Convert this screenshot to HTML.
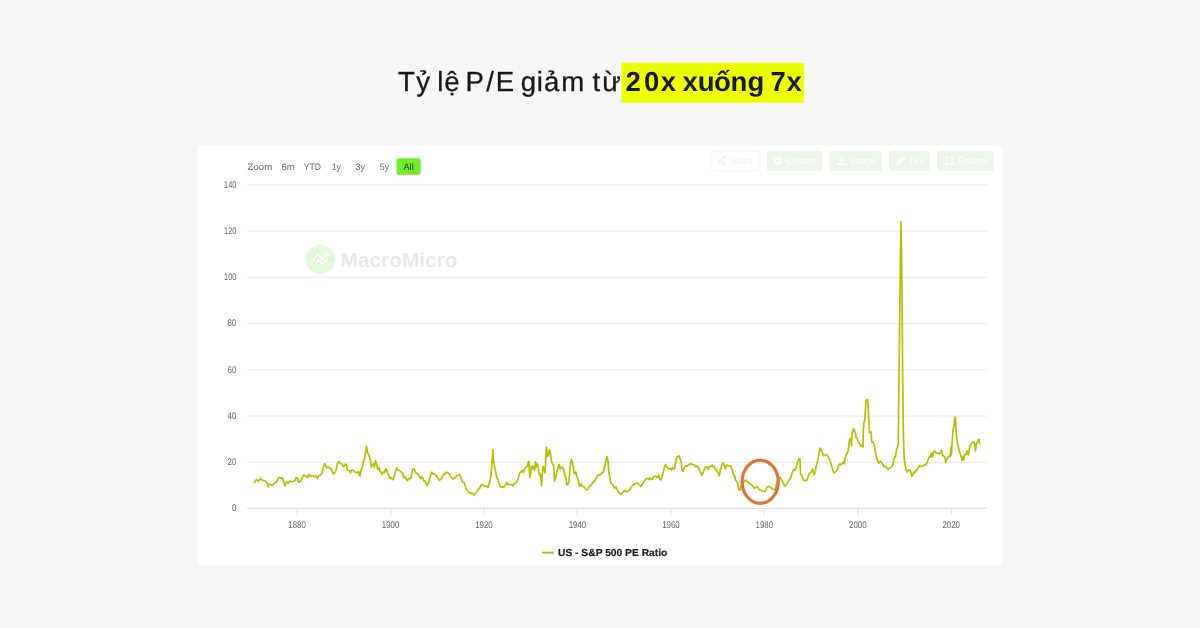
<!DOCTYPE html>
<html lang="vi">
<head>
<meta charset="utf-8">
<title>Tỷ lệ P/E giảm từ 20x xuống 7x</title>
<style>
html,body{margin:0;padding:0;}
body{width:1200px;height:628px;background:#f6f6f6;position:relative;overflow:hidden;font-family:"Liberation Sans",sans-serif;}
.chart{position:absolute;left:0;top:0;}
svg.ttl{position:absolute;left:0;top:0;}
svg text{font-family:"Liberation Sans",sans-serif;text-rendering:geometricPrecision;}
</style>
</head>
<body>
<svg class="ttl" width="1200" height="130" viewBox="0 0 1200 130">
<rect x="621.5" y="62.8" width="182.6" height="39.9" fill="#eeff03"/>
<g font-size="27.6" fill="#18181c" stroke="#18181c" stroke-width="0.3">
<text x="398.1 416.27" y="90.75">Tỷ</text>
<text x="437.28 444.23" y="90.75">lệ</text>
<text x="465.49 486.37 495.63" y="90.75">P/E</text>
<text x="520.76 536.84 543.89 561.25" y="90.75">giảm</text>
<text x="592.53 602.29" y="90.75">từ</text>
</g>
<g font-size="27.5" font-weight="bold" fill="#18181c">
<text x="625.43 643.92 660.76" y="90.75">20x</text>
<text x="682.41 697.85 713.95 730.45 747.51" y="90.75">xuống</text>
<text x="770.62 786.53" y="90.75">7x</text>
</g>
</svg>
<svg class="chart" width="1200" height="628" viewBox="0 0 1200 628">
<rect x="197.6" y="145.5" width="805.5" height="419.1" fill="#fff"/>
<g id="grid">
<line x1="247.2" x2="987" y1="462.36" y2="462.36" stroke="#e7e7e7" stroke-width="0.9"/>
<line x1="247.2" x2="987" y1="416.12" y2="416.12" stroke="#e7e7e7" stroke-width="0.9"/>
<line x1="247.2" x2="987" y1="369.88" y2="369.88" stroke="#e7e7e7" stroke-width="0.9"/>
<line x1="247.2" x2="987" y1="323.64" y2="323.64" stroke="#e7e7e7" stroke-width="0.9"/>
<line x1="247.2" x2="987" y1="277.40" y2="277.40" stroke="#e7e7e7" stroke-width="0.9"/>
<line x1="247.2" x2="987" y1="231.16" y2="231.16" stroke="#e7e7e7" stroke-width="0.9"/>
<line x1="247.2" x2="987" y1="184.92" y2="184.92" stroke="#e7e7e7" stroke-width="0.9"/>
<line x1="247.2" x2="987" y1="508.30" y2="508.30" stroke="#dedede" stroke-width="1.2"/>
</g>
<g id="ylab" font-size="9.7" fill="#666">
<text x="231.90" y="511.30" textLength="4.4" lengthAdjust="spacingAndGlyphs">0</text>
<text x="227.60" y="465.06" textLength="8.7" lengthAdjust="spacingAndGlyphs">20</text>
<text x="227.60" y="418.82" textLength="8.7" lengthAdjust="spacingAndGlyphs">40</text>
<text x="227.60" y="372.58" textLength="8.7" lengthAdjust="spacingAndGlyphs">60</text>
<text x="227.60" y="326.34" textLength="8.7" lengthAdjust="spacingAndGlyphs">80</text>
<text x="224.10" y="280.10" textLength="12.2" lengthAdjust="spacingAndGlyphs">100</text>
<text x="224.10" y="233.86" textLength="12.2" lengthAdjust="spacingAndGlyphs">120</text>
<text x="224.10" y="187.62" textLength="12.2" lengthAdjust="spacingAndGlyphs">140</text>
</g>
<g id="xlab" font-size="9.7" fill="#666">
<line x1="297.10" x2="297.10" y1="508.30" y2="515" stroke="#dedede" stroke-width="1"/>
<text x="288.35" y="527.9" textLength="17.5" lengthAdjust="spacingAndGlyphs">1880</text>
<line x1="390.55" x2="390.55" y1="508.30" y2="515" stroke="#dedede" stroke-width="1"/>
<text x="381.80" y="527.9" textLength="17.5" lengthAdjust="spacingAndGlyphs">1900</text>
<line x1="484.00" x2="484.00" y1="508.30" y2="515" stroke="#dedede" stroke-width="1"/>
<text x="475.25" y="527.9" textLength="17.5" lengthAdjust="spacingAndGlyphs">1920</text>
<line x1="577.45" x2="577.45" y1="508.30" y2="515" stroke="#dedede" stroke-width="1"/>
<text x="568.70" y="527.9" textLength="17.5" lengthAdjust="spacingAndGlyphs">1940</text>
<line x1="670.90" x2="670.90" y1="508.30" y2="515" stroke="#dedede" stroke-width="1"/>
<text x="662.15" y="527.9" textLength="17.5" lengthAdjust="spacingAndGlyphs">1960</text>
<line x1="764.35" x2="764.35" y1="508.30" y2="515" stroke="#dedede" stroke-width="1"/>
<text x="755.60" y="527.9" textLength="17.5" lengthAdjust="spacingAndGlyphs">1980</text>
<line x1="857.80" x2="857.80" y1="508.30" y2="515" stroke="#dedede" stroke-width="1"/>
<text x="849.05" y="527.9" textLength="17.5" lengthAdjust="spacingAndGlyphs">2000</text>
<line x1="951.25" x2="951.25" y1="508.30" y2="515" stroke="#dedede" stroke-width="1"/>
<text x="942.50" y="527.9" textLength="17.5" lengthAdjust="spacingAndGlyphs">2020</text>
</g>
<g id="zoom" font-size="9.4" fill="#666">
<text x="247.6" y="169.9" textLength="24.6" lengthAdjust="spacingAndGlyphs">Zoom</text>
<text x="281.50" y="169.9" textLength="13.4" lengthAdjust="spacingAndGlyphs">6m</text>
<text x="303.65" y="169.9" textLength="17.2" lengthAdjust="spacingAndGlyphs">YTD</text>
<text x="331.70" y="169.9" textLength="9.2" lengthAdjust="spacingAndGlyphs">1y</text>
<text x="355.60" y="169.9" textLength="9.5" lengthAdjust="spacingAndGlyphs">3y</text>
<text x="379.75" y="169.9" textLength="9.3" lengthAdjust="spacingAndGlyphs">5y</text>
<rect x="396.5" y="158.3" width="24.2" height="16.5" rx="2" fill="#70ec28"/>
<text x="403.5" y="169.9" fill="#333" textLength="10.2" lengthAdjust="spacingAndGlyphs">All</text>
</g>
<g id="tools" font-size="9.6" fill="#fff">
<rect x="710.9" y="150.9" width="48.2" height="19.8" rx="2.8" fill="#fff" stroke="#f6f6f6" stroke-width="1.2"/>
<g stroke="#f1f1f1" stroke-width="1" fill="#f1f1f1"><path d="M724.3,157.3 L720,160.7 L724.3,163.8" fill="none"/><circle cx="724.4" cy="157.3" r="1.3"/><circle cx="720" cy="160.7" r="1.3"/><circle cx="724.4" cy="163.8" r="1.3"/></g>
<text x="730.8" y="164.4" fill="#f1f1f1" textLength="22.4" lengthAdjust="spacingAndGlyphs">Share</text>
<rect x="766.9" y="150.7" width="55.5" height="20.4" rx="2.8" fill="#eef5ea"/>
<g transform="translate(777.9,160.8)"><circle r="3.35" fill="#fff"/><path d="M0,-4.4V4.4M-3.81,-2.2L3.81,2.2M-3.81,2.2L3.81,-2.2" stroke="#fff" stroke-width="2.4" stroke-linecap="butt" fill="none"/><circle r="1.35" fill="#eef5ea"/></g>
<text x="786" y="164.4" textLength="29.7" lengthAdjust="spacingAndGlyphs">Custom</text>
<rect x="829.7" y="150.7" width="52" height="20.4" rx="2.8" fill="#eef5ea"/>
<path d="M840.7,156.2h2v3.8h2l-3,3.1l-3,-3.1h2z M837,163h3.2l1.5,1.4l1.5,-1.4h3.3v2.3h-9.5z" fill="#fff"/>
<text x="850.8" y="164.4" textLength="24.6" lengthAdjust="spacingAndGlyphs">Image</text>
<rect x="888.9" y="150.7" width="40.8" height="20.4" rx="2.8" fill="#eef5ea"/>
<path d="M896.6,164.9l0.5,-2.6l6.2,-6.2l2.1,2.1l-6.2,6.2z" fill="#fff"/>
<text x="910" y="164.4" textLength="13.5" lengthAdjust="spacingAndGlyphs">DIY</text>
<rect x="937" y="150.7" width="57" height="20.4" rx="2.8" fill="#eef5ea"/>
<path d="M945.6,159.8v-2.4h2.6M950.2,157.4h2.6v2.4M952.8,161.9v2.4h-2.6M948.2,164.3h-2.6v-2.4" fill="none" stroke="#fff" stroke-width="1.4"/>
<text x="958.3" y="164.4" textLength="28.8" lengthAdjust="spacingAndGlyphs">Enlarge</text>
</g>
<g id="wm">
<circle cx="320.3" cy="259.2" r="14.7" fill="#e2f8d8"/>
<path d="M310.8,264.5L317.5,254.3L322,259.1L326.1,255.3M315,264.5L318.5,259.7L322.3,264.2L326.4,259.1L329.6,264.8" fill="none" stroke="#fff" stroke-width="1.35" stroke-linejoin="round" stroke-linecap="round"/>
<circle cx="327.1" cy="254.3" r="1.35" fill="none" stroke="#fff" stroke-width="1"/>
<text x="340.6" y="266.5" font-size="20.5" font-weight="bold" fill="#e8e8e8" textLength="116.8" lengthAdjust="spacingAndGlyphs">MacroMicro</text>
</g>
<path id="series" d="M254.5,482.5 L256,479.8 L257.5,480.2 L258.5,481 L260.5,478.5 L262.5,480.5 L264.5,480.5 L266.5,482 L267.5,484 L268.2,487 L269.2,484 L271,485.2 L273,484.8 L275,483 L276.5,482 L278.5,477.5 L280,477.5 L281.5,478.8 L282.5,478 L283.5,481 L284.8,486 L286.2,482 L288,483 L290,481.2 L292,481.8 L294,481 L295,480.5 L295.8,477.8 L297,477.5 L298,479.5 L298.8,482.2 L300.5,481.5 L302,478.5 L303.5,475 L304.8,476 L306,475.8 L307.5,477.5 L309,474.5 L310.2,476.5 L312.5,475.5 L314,477 L316,476 L317.5,478.5 L318.5,476 L320,475.5 L322,473 L323.5,467 L324.5,463.5 L325.5,465 L326.5,468 L328.5,466.8 L330,469 L331.2,468.5 L332.2,471.5 L333.5,474 L335,472.5 L336,470 L337.5,463.5 L339,461.5 L340.5,463.5 L341.8,464 L343.5,466.8 L345.5,464 L346.5,465.5 L347.8,470.5 L349.5,470.5 L350.5,473 L351.5,470 L353.5,470.5 L355,472 L357,472.8 L358.5,471.5 L359.8,476 L360,476 L361,470 L362.2,468 L363.5,461.5 L364.5,459 L365.5,452 L366.5,446 L367.5,452.5 L369,455 L370.2,459 L371.2,467 L372,464.5 L372.8,465 L373.5,464 L374.3,467.5 L375.5,460.5 L376.5,464.5 L377.8,469.5 L379,467.5 L380,471.5 L381.2,472.5 L382,474.5 L383,472 L384.5,472.5 L385.8,469 L386.8,470 L387.5,473 L389,475.5 L389.8,478.5 L391,477.5 L392,479 L393.2,479.8 L394.5,475 L395.8,470.5 L396.8,467.8 L397.8,469.8 L399.5,470.5 L401,472 L402.5,473 L403.8,477.5 L404.8,476.5 L406,478.5 L407.5,480.8 L408.8,478.8 L410,478.5 L411.2,477.5 L412.2,472 L413,469 L414.2,468.8 L415.2,472 L416.5,473.5 L418,474 L419.2,476 L420.5,478.5 L421.5,476.5 L422.8,478 L423.8,481 L425,481 L426,483 L427,485.8 L428,484 L429.5,479.5 L430.8,475 L431.8,472 L433,474 L434.5,474 L436,475.5 L437.5,477.5 L438.5,478.5 L439.5,480.5 L441,479 L442.5,476.5 L443.8,474 L444.8,474.5 L445.8,472.2 L447.2,472.5 L448.5,473.5 L449.8,474.5 L451,477 L452.5,478.5 L453.2,479 L454.5,477.5 L455.5,477.8 L456.5,475.8 L458,475.5 L459.5,474.5 L460.5,476.5 L461.5,479.5 L462.8,482.5 L464.2,482.5 L465.5,487 L466.5,489.5 L468,491.5 L470,493 L470,493.5 L471.5,492.8 L472.8,493.5 L474,495 L475.5,493.5 L477,491.5 L478,489.5 L479.5,488.5 L480.5,486.5 L481.5,484.5 L482.5,484.5 L483.8,485.8 L485,486 L486,486.5 L487,486.2 L488,487.5 L489,484 L490,480 L491,476 L491.8,464 L492.5,457 L492.8,449.5 L493.3,459 L494,463 L495,469.5 L495.8,472 L496.8,478 L498,479.5 L499,483 L500,486 L501.2,487.5 L502.5,486.8 L504,487 L505.2,485 L506.2,484 L507,482.5 L508,484.5 L509.5,484.8 L511,484.5 L512,484.5 L513,486 L514,484 L515.5,483 L517,481.5 L518.5,477 L519.5,473.5 L520.5,472 L521.5,471.8 L522.2,470.2 L523.2,472.5 L524.5,469.5 L525.5,467.5 L526.5,466.5 L527.5,466.5 L528.2,461.5 L529,461.5 L529.7,477.5 L530.5,474 L531.5,466.5 L532.2,469 L533,466.2 L533.8,466.8 L534.5,470.5 L535.5,461.8 L536.2,467 L537,464 L537.8,464.5 L538.8,472 L539.5,475 L540.5,474.5 L541.5,486 L542.2,475.5 L543,466.5 L543.8,467 L545,473 L545.8,458 L546.5,447 L547.5,456.5 L548.5,455 L549.5,449.5 L550.5,454 L551.5,461 L552.5,464 L553.5,464.8 L554.5,481 L555.5,478.5 L556.5,474 L557.8,467.5 L559,464.5 L560,469 L561.2,467 L562.5,467.5 L563.8,470 L565,476 L565.8,476.5 L566.8,485 L568,484 L569,481.5 L570,469 L570.8,461.5 L571.5,459.5 L572.5,463 L573.2,467 L574,473 L575,473.5 L575.8,472 L576.5,475 L577.5,478 L578.2,480 L579.2,486.2 L580,485.5 L581,484 L582.5,486.2 L584,486.8 L585.5,488.8 L586.5,489.8 L587.8,489.5 L588.8,487 L590,485.8 L591,485.5 L592.5,483 L593.5,481.8 L594.8,481 L595.8,478.5 L597,477 L598,475 L599.5,475 L601,473.8 L602.5,472.8 L603.2,472.2 L604,469 L605,465 L606.2,459.5 L607,456.5 L608,461 L608.8,472 L609.8,477 L610.8,482.5 L612,484 L613.5,486 L614.5,488 L616,487 L617.2,489.8 L618.5,492.2 L620,493.5 L621.2,494 L622.5,492.2 L624,491 L625.2,490.5 L626.2,492 L627.5,491.5 L628.8,490 L630,489.5 L631.2,487 L632.5,485.5 L634,484.5 L635.2,483.5 L636.2,483.5 L637.5,482.8 L639,484.8 L640.8,486.5 L642.5,484 L644.5,481 L646.5,478.5 L648,478.5 L648.8,479.5 L649.8,478 L651,479.5 L652,479.5 L653.2,477.5 L654.5,476 L655.8,476.5 L656.8,477.5 L658,476.5 L658.8,475.2 L659.8,479.5 L660.8,480 L662,476.5 L663.5,471 L664.8,466.5 L665.8,464.5 L667,467 L668.2,468.5 L669.5,469 L670.5,468.5 L671.5,469.8 L672.5,467.5 L673.5,469 L674.5,469 L675.5,463 L676.5,458 L677.8,456.5 L679.2,456 L680.2,459 L681.2,462 L682,470 L683.2,471 L684.5,467 L685.8,465.8 L687,466.2 L688.5,465 L690,463.8 L691.5,464 L693,464.5 L694.5,464.8 L695.5,466.8 L696.8,466.2 L698,467 L699.5,470 L700.8,473 L701.8,475 L703,473 L704.5,469 L705.8,466.8 L707,466.5 L708.2,469.5 L709.5,466.5 L710.5,466.8 L711.8,465.2 L712.8,466.8 L714,466.5 L715,469 L716.2,469.8 L717.5,471.8 L718.5,473 L719.2,475.8 L720.5,470 L721.8,465.5 L723,462.8 L724.2,465 L725.5,469 L726.8,465 L728,465.5 L729.5,466.5 L731,466 L732,469.5 L733.2,474 L734.5,475.5 L735.5,480 L736.8,481.5 L737.8,484 L738.8,490 L740,490 L741,486 L742.5,483.5 L744,482 L745.2,480.2 L746.5,481.2 L748.5,482.5 L750.5,484 L752.5,486 L754.5,488.2 L756,487.5 L757.5,486.8 L758.5,488.8 L760,490 L761.5,490.8 L763.5,491 L765,491.8 L766.2,489 L767.5,486.8 L769,486.5 L770.5,487.2 L772,488.8 L773.5,489.5 L775,489.8 L776,486 L777,482 L778.5,478.5 L779.8,477.5 L781.2,479 L782.5,481.5 L783.8,484.5 L785,486 L786.2,484.5 L787.8,482.5 L789,480 L790.5,478.5 L791.8,474 L793,470.5 L794.2,469.5 L795.5,469.8 L796.5,466.2 L797.8,461.5 L799,458.8 L799.8,460 L800,459 L800.5,474.5 L801.8,475 L802.8,478.5 L804,480.2 L805.5,480.8 L806.8,480.2 L807.8,478 L808.8,474.5 L810,473 L811.2,472 L812.5,469 L813.5,473 L814.2,474.8 L815.2,472 L816,467 L817.5,461.5 L818.8,454 L820,448 L821.5,451 L822.8,454 L823.8,455.8 L825.2,455 L826.5,454.5 L827.8,456 L829,458.5 L830.2,461 L831.2,465 L832.5,468.5 L833.8,473 L835,472.5 L836.5,471 L837.5,469 L838.8,465 L839.8,463.8 L841,465 L842.2,463.5 L843.5,461.8 L844.3,464 L845,458.5 L845.8,455.5 L847,453.5 L848.2,450.5 L849,444 L849.8,438.5 L850.8,438.5 L851.5,445.5 L852,433 L853,430 L853.8,428.8 L854.5,432 L855.2,432 L856,437 L857,438.5 L858.5,442 L859.8,443.8 L861,446.2 L862,445.5 L863,447 L863.2,432 L864,423 L864.8,420 L865.5,410 L866,400.5 L867.5,399.5 L868.2,407 L868.8,420 L869.5,433 L870,432.5 L871.2,432 L871.8,442.5 L873,441.8 L874.2,445 L875.2,450.5 L876,455.5 L877.2,459 L878.5,463.5 L879.5,462.5 L880.5,461 L881.8,463 L883,464.8 L884.2,466.8 L885.5,466.5 L886.8,468 L888,469.5 L889.2,468 L890.5,467.8 L891.8,466.5 L893,464.5 L893.8,459.5 L894.8,456.5 L895.5,457 L896.5,450 L897.5,447 L898.3,444 L898.6,410 L899,380 L900,290 L901,221.5 L902,290 L902.7,380 L903.2,420 L903.6,440 L903.8,450 L904.2,458.5 L905,464 L906,469.5 L907,472 L908.5,470 L909.5,469.8 L910.8,472 L911.8,476.2 L913,474.5 L914,472 L915,472.5 L916,470.5 L917.2,469.5 L918.5,467.5 L919.2,465.8 L920.5,466.5 L922,466.2 L923.5,465.5 L924.8,464.5 L926,464.8 L927,462.5 L928.2,459.5 L929.5,456.5 L930.5,457 L931.5,453 L932.5,456.8 L933.5,452.5 L934.5,450.8 L935.8,452.5 L937.2,453.2 L938.5,453.5 L939.8,453.8 L940.8,452 L941.5,450.2 L942.5,455 L943.5,455.8 L944.8,456.8 L945.8,462.5 L946.8,459 L948,457.5 L949.2,456 L950.2,456.5 L951,447 L951.5,455 L952.5,437 L953.2,429 L954,427 L954.8,417 L955.5,417.5 L956,429 L956.8,438 L957.8,445 L959,449.5 L960.2,454 L961.2,456.5 L962,460.5 L963,456.5 L963.8,460 L964.5,455.5 L965.5,454 L966.2,454.5 L967,450.8 L968,453 L968.5,455 L969.5,447.5 L970.5,445 L971.8,443 L973.2,441.8 L974.2,442.5 L975,447 L975.5,451 L976.2,444.5 L977.5,442 L978.5,439.8 L979.1,439.4 L979.6,443.3" fill="none" stroke="#b5c003" stroke-width="1.7" stroke-linejoin="round" stroke-linecap="round"/>
<ellipse cx="760.2" cy="481.8" rx="18.1" ry="21.6" fill="none" stroke="#dd7339" stroke-width="3.2"/>
<g id="legend">
<line x1="542" x2="554" y1="552.6" y2="552.6" stroke="#b5c003" stroke-width="1.9"/>
<text x="558" y="556.1" font-size="10.2" font-weight="bold" fill="#1a1a1a" stroke="#1a1a1a" stroke-width="0.2" textLength="109.3" lengthAdjust="spacingAndGlyphs">US - S&amp;P 500 PE Ratio</text>
</g>
</svg>
</body>
</html>
